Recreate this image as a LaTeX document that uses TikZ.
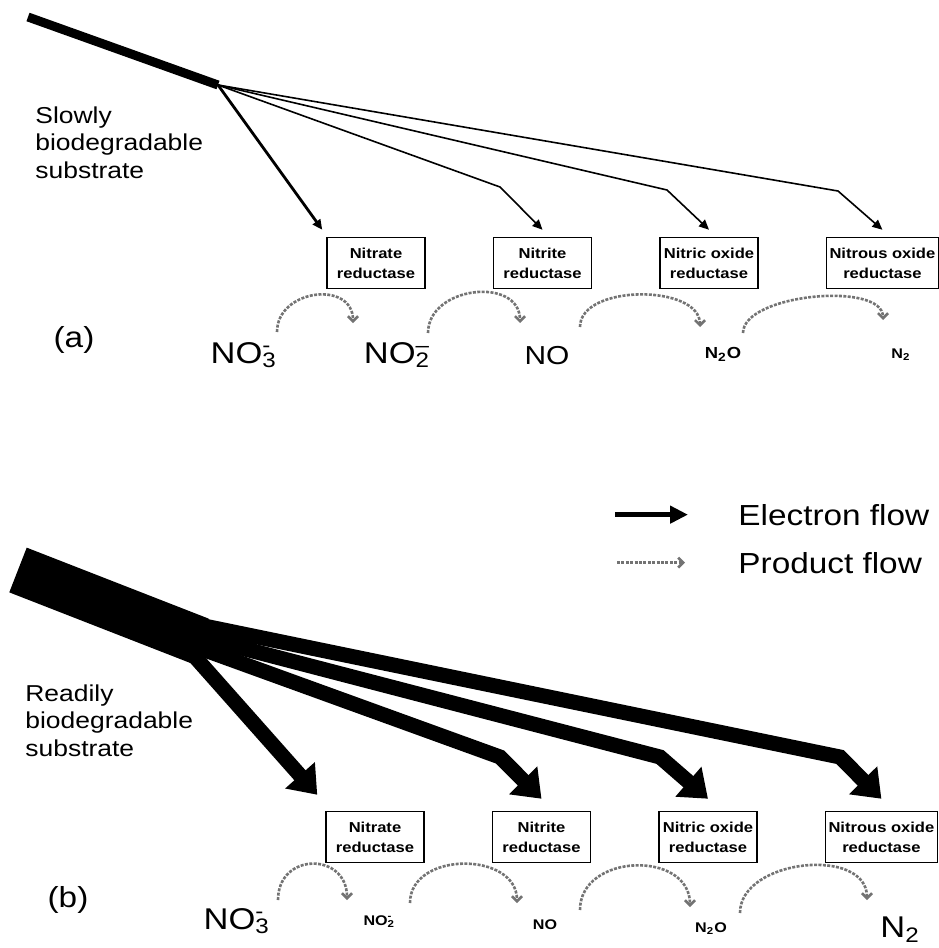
\documentclass[tikz,border=0pt]{standalone}
\usepackage{fontspec}
\setmainfont[FakeStretch=1.15]{Liberation Sans}
\usetikzlibrary{arrows.meta, positioning}

\begin{document}
\begin{tikzpicture}[
    x=0.5pt, y=-0.5pt,
    node distance=33.5pt,
    enzyme/.style={rectangle, draw, line width=0.75pt, minimum width=49pt, minimum height=25.5pt, inner xsep=1.5pt, align=center, font=\bfseries\fontsize{7.2}{10}\selectfont},
    substrate/.style={inner sep=0pt, anchor=north west, align=left, font=\fontsize{11.5}{13.75}\selectfont},
    panel/.style={inner sep=0pt, font=\fontsize{14.5}{14.5}\selectfont},
    ion/.style={inner sep=0pt, font=\fontsize{15}{15}\selectfont},
    ionsm/.style={inner sep=0pt, font=\bfseries\fontsize{7}{7}\selectfont},
    keytext/.style={inner sep=0pt, anchor=base west, font=\fontsize{14.5}{14.5}\selectfont},
    eflow/.style={line width=0.8pt, -{Triangle[length=5pt,width=4.5pt]}},
    eflowfat/.style={line width=7.5pt, -{Triangle[length=13pt,width=19pt]}},
    pflow/.style={draw=black!55, line width=1.3pt, dash pattern=on 1.5pt off 0.7pt, -{Straight Barb[length=2.5pt,width=5pt]}},
]
\useasboundingbox (0,0) rectangle (938,948);

% ---- (a) slowly biodegradable substrate
\node[substrate] (subA) at (35,106) {Slowly\\biodegradable\\substrate};
\node[panel] (panA) at (74,340) {(a)};

\node[enzyme] (na1) at (376,263) {Nitrate\\reductase};
\node[enzyme, right=of na1] (na2) {Nitrite\\reductase};
\node[enzyme, right=of na2] (na3) {Nitric oxide\\reductase};
\node[enzyme, right=of na3] (na4) {Nitrous oxide\\reductase};

\node[ion] (sa1) at (241,355) {NO\rlap{\textsubscript{3}}\textsuperscript{-}};
\node[ion] (sa2) at (397,355) {NO\rlap{\textsubscript{2}}\textsuperscript{--}};
\node[ion, font=\fontsize{13}{13}\selectfont] (sa3) at (547,356) {NO};
\node[ionsm, font=\bfseries\fontsize{8}{8}\selectfont] (sa4) at (723,354) {N\textsubscript{2}O};
\node[ionsm] (sa5) at (901,355) {N\textsubscript{2}};

% electron flow, thin
\coordinate (feedA) at (28,17);
\coordinate (forkA) at (218,85);
\draw[line width=4.5pt] (feedA) -- (forkA);
\draw[eflow, line width=1.4pt] (forkA) -- ([shift={(-4,-7)}]na1.north west);
\draw[eflow] (forkA) -- (500,187) -- ([yshift=3.5pt]na2.north);
\draw[eflow] (forkA) -- (667,190) -- ([yshift=3.5pt]na3.north);
\draw[eflow] (forkA) -- (838,191) -- ([yshift=3.5pt]na4.north);

% product flow
\draw[pflow] ([shift={(36,-23)}]sa1.center) .. controls +(0,-43) and +(0,-43) .. ([shift={(-44,-32)}]sa2.center);
\draw[pflow] ([shift={(31,-22)}]sa2.center) .. controls +(0,-47) and +(0,-47) .. ([shift={(-27,-33)}]sa3.center);
\draw[pflow] ([shift={(33,-29)}]sa3.center) .. controls +(0,-43) and +(0,-43) .. ([shift={(-23,-27)}]sa4.center);
\draw[pflow] ([shift={(20,-21)}]sa4.center) .. controls +(0,-39) and +(0,-39) .. ([shift={(-18,-35)}]sa5.center);

% ---- key
\node[keytext] (keyE) at (738,525) {Electron flow};
\node[keytext] (keyP) at (738,573) {Product flow};
\draw[line width=2.8pt, -{Triangle[length=9pt,width=8.5pt]}] ([xshift=-61.5pt]keyE.west) -- ([xshift=-25pt]keyE.west);
\draw[pflow] ([xshift=-60.5pt]keyP.west) -- ([xshift=-26.5pt]keyP.west);

% ---- (b) readily biodegradable substrate
\node[substrate] (subB) at (25,684) {Readily\\biodegradable\\substrate};
\node[panel] (panB) at (68,900) {(b)};

\node[enzyme] (nb1) at (375,837) {Nitrate\\reductase};
\node[enzyme, right=of nb1] (nb2) {Nitrite\\reductase};
\node[enzyme, right=of nb2] (nb3) {Nitric oxide\\reductase};
\node[enzyme, right=of nb3] (nb4) {Nitrous oxide\\reductase};

\node[ion] (sb1) at (234,921) {NO\rlap{\textsubscript{3}}\textsuperscript{-}};
\node[ionsm] (sb2) at (378,922) {NO\rlap{\textsubscript{2}}\textsuperscript{-}};
\node[ionsm] (sb3) at (545,925) {NO};
\node[ionsm] (sb4) at (711,929) {N\textsubscript{2}O};
\node[ion] (sb5) at (900,930) {N\textsubscript{2}};

% electron flow, heavy (branches start inside the trunk end)
\coordinate (feedB) at (18,570);
\coordinate (forkB) at (200,641);
\draw[line width=24pt] (feedB) -- (forkB);
\draw[eflowfat] ([shift={(-20,-1)}]forkB) -- ([shift={(-8,-16)}]nb1.north west);
\draw[eflowfat] ([shift={(-20,0)}]forkB) -- (500,757) -- ([yshift=6pt]nb2.north);
\draw[eflowfat] ([shift={(-20,-9)}]forkB) -- (660,757) -- ([yshift=6pt]nb3.north);
\draw[eflowfat] ([shift={(-20,-20)}]forkB) -- (840,757) -- ([yshift=6pt]nb4.north);

% product flow
\draw[pflow] ([shift={(44,-21)}]sb1.center) .. controls +(0,-48) and +(0,-48) .. ([shift={(-31,-22)}]sb2.center);
\draw[pflow] ([shift={(32,-19)}]sb2.center) .. controls +(0,-52) and +(0,-52) .. ([shift={(-28,-22)}]sb3.center);
\draw[pflow] ([shift={(35,-15)}]sb3.center) .. controls +(0,-57) and +(0,-57) .. ([shift={(-21,-22)}]sb4.center);
\draw[pflow] ([shift={(29,-16)}]sb4.center) .. controls +(0,-54) and +(0,-54) .. ([shift={(-33,-30)}]sb5.center);
\end{tikzpicture}
\end{document}
